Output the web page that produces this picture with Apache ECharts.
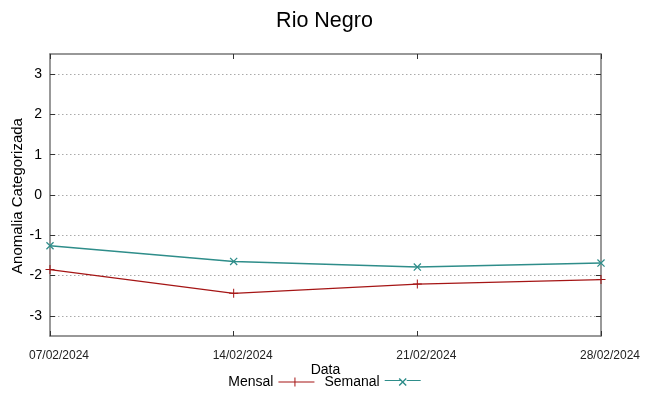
<!DOCTYPE html>
<html lang="pt">
	<head>
		<meta charset="UTF-8" />
		<title>Rio Negro</title>
		<script src="https://cdn.jsdelivr.net/npm/echarts@6/dist/echarts.min.js"></script>
		<style>
			body { margin: 0; background: #fff; }
		</style>
	</head>
	<body>
		<div id="main" style="width: 649px; height: 396px"></div>
		<script type="text/javascript">
			// dados
			const datas = ["07/02/2024", "14/02/2024", "21/02/2024", "28/02/2024"];
			const mensal = [-1.85, -2.44, -2.21, -2.1];
			const semanal = [-1.26, -1.65, -1.79, -1.69];
			const yTicks = [-3, -2, -1, 0, 1, 2, 3];
			const yName = "Anomalia Categorizada";

			const plusPath = "path://M4,0 L5,0 L5,9 L4,9 Z M0,4 L9,4 L9,5 L0,5 Z";
			const crossPath = "path://M0,1 L1,0 L9,8 L8,9 Z M8,0 L9,1 L1,9 L0,8 Z";
			const font = "Liberation Sans, Arial, sans-serif";

			let options = {
				animation: false,
				title: {
					text: "Rio Negro",
					left: "center",
					top: 5,
					textStyle: { fontFamily: font, fontSize: 21.5, fontWeight: "normal", color: "#000" },
				},
				grid: { left: 50, right: 48, top: 54, bottom: 60, outerBoundsMode: "none", containLabel: false },
				// titulo do eixo y, posto a mao
				graphic: [
					{
						type: "text",
						x: 18,
						y: 196,
						rotation: Math.PI / 2,
						style: {
							text: yName,
							font: "15px " + font,
							fill: "#000",
							align: "center",
							verticalAlign: "middle",
						},
					},
				],
				legend: {
					bottom: 2,
					left: "center",
					align: "right",
					itemGap: 10,
					itemWidth: 36,
					itemHeight: 9,
					textStyle: { fontFamily: font, fontSize: 14, color: "#000" },
					data: [
						{ name: "Mensal", icon: "path://M0,4 L16,4 L16,0 L17,0 L17,4 L36,4 L36,5 L17,5 L17,9 L16,9 L16,5 L0,5 Z" },
						{ name: "Semanal", icon: "path://M0,4 L15,4 L14,3 L15,2 L18,5 L21,2 L22,3 L19,6 L22,9 L21,10 L18,7 L15,10 L14,9 L17,6 L16,5 L0,5 Z M22,4 L36,4 L36,5 L22,5 Z" },
					],
				},
				xAxis: [
					{
						type: "category",
						data: datas,
						boundaryGap: false,
						name: "Data",
						nameLocation: "middle",
						nameGap: 27,
						nameMoveOverlap: false,
						nameTextStyle: { fontFamily: font, fontSize: 14, color: "#000" },
						axisLine: { onZero: false, lineStyle: { color: "#777", width: 1.5 } },
						axisTick: { inside: true, length: 5, lineStyle: { color: "#333" } },
						axisLabel: {
							fontFamily: font,
							fontSize: 12,
							color: "#222",
							margin: 14,
							padding: [0, 0, 0, 18],
						},
						splitLine: { show: false },
					},
					{
						type: "category",
						data: datas,
						boundaryGap: false,
						position: "top",
						axisLine: { onZero: false, lineStyle: { color: "#777", width: 1.5 } },
						axisTick: { inside: true, length: 5, lineStyle: { color: "#333" } },
						axisLabel: { show: false },
					},
				],
				yAxis: [
					{
						type: "value",
						min: -3.5,
						max: 3.5,
						axisLine: { show: true, onZero: false, lineStyle: { color: "#777", width: 1.5 } },
						axisTick: { show: true, inside: true, length: 5, customValues: yTicks, lineStyle: { color: "#333" } },
						axisLabel: {
							fontFamily: font,
							fontSize: 14,
							color: "#000",
							margin: 8,
							customValues: yTicks,
						},
						splitLine: {
							show: true,
							lineStyle: { type: [1.5, 2.5], color: "#aaa", width: 1 },
						},
					},
					{
						type: "value",
						min: -3.5,
						max: 3.5,
						position: "right",
						axisLine: { show: true, onZero: false, lineStyle: { color: "#777", width: 1.5 } },
						axisTick: { show: true, inside: true, length: 5, customValues: yTicks, lineStyle: { color: "#333" } },
						axisLabel: { show: false },
						splitLine: { show: false },
					},
				],
				series: [
					{
						name: "Mensal",
						type: "line",
						data: mensal,
						symbol: plusPath,
						symbolSize: 9,
						showAllSymbol: true,
						color: "#a51515",
						lineStyle: { width: 1.3 },
					},
					{
						name: "Semanal",
						type: "line",
						data: semanal,
						symbol: crossPath,
						symbolSize: 8,
						showAllSymbol: true,
						color: "#2e8d8a",
						lineStyle: { width: 1.5 },
					},
				],
			};
			let myChart = echarts.init(document.getElementById("main"));
			myChart.setOption(options);
		</script>
	</body>
</html>
